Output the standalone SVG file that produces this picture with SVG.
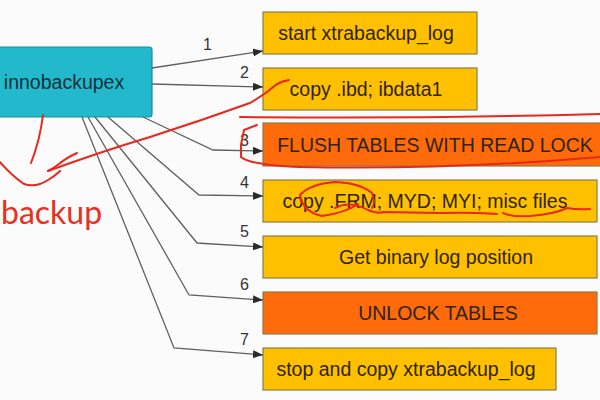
<svg xmlns="http://www.w3.org/2000/svg" width="600" height="400" viewBox="0 0 600 400">
<defs>
<marker id="ah" viewBox="0 0 10 8" refX="10" refY="4" markerWidth="10" markerHeight="8" markerUnits="userSpaceOnUse" orient="auto">
<path d="M0 0 L10 4 L0 8 Z" fill="#2a2a2a"/>
</marker>
</defs>
<style>
.box rect{stroke:#8a7c4a;stroke-width:1.2}
.y rect{fill:#ffc000}
.o rect{fill:#ff6a0a}
.t{font-family:"Liberation Sans",Arial,sans-serif;font-size:19.5px;fill:#2e2410;text-anchor:middle}
.n{font-family:"Liberation Sans",Arial,sans-serif;font-size:16px;fill:#333}
.c path{fill:none;stroke:#606060;stroke-width:1.3;marker-end:url(#ah)}
.r path{fill:none;stroke:#e8281a;stroke-width:2;stroke-linecap:round;stroke-linejoin:round}
</style>
<rect width="600" height="400" fill="#fbfbfb"/>
<g id="innobackupex">
<rect x="-6" y="47" width="158" height="70" rx="3" fill="#22b9cc" stroke="#1a8d9e" stroke-width="1.2"/>
<text x="64" y="89" style="font-family:'Liberation Sans',Arial,sans-serif;font-size:19.5px;fill:#12303a;text-anchor:middle">innobackupex</text>
</g>
<g id="step1" class="box y"><rect x="263" y="12" width="214" height="42"/><text class="t" x="366" y="40">start xtrabackup_log</text></g>
<g id="step2" class="box y"><rect x="263" y="68" width="214" height="42"/><text class="t" x="366" y="96">copy .ibd; ibdata1</text></g>
<g id="step3" class="box o"><rect x="263" y="123" width="350" height="43"/><text class="t" x="435" y="152">FLUSH TABLES WITH READ LOCK</text></g>
<g id="step4" class="box y"><rect x="263" y="180" width="334" height="42"/><text class="t" x="425" y="208">copy .FRM; MYD; MYI; misc files</text></g>
<g id="step5" class="box y"><rect x="263" y="236" width="334" height="42"/><text class="t" x="436" y="264">Get binary log position</text></g>
<g id="step6" class="box o"><rect x="263" y="292" width="334" height="42"/><text class="t" x="438" y="320">UNLOCK TABLES</text></g>
<g id="step7" class="box y"><rect x="263" y="348" width="293" height="42"/><text class="t" x="406" y="376">stop and copy xtrabackup_log</text></g>
<g id="connectors" class="c">
<path d="M152 68 L263 51"/>
<path d="M152 84 L263 87"/>
<path d="M143 117 L213 150 L263 151"/>
<path d="M108 117 L199 195 L263 196"/>
<path d="M95 117 L197 243 L263 247"/>
<path d="M88 117 L189 295 L263 300"/>
<path d="M82 117 L174 348 L263 355"/>
</g>
<g id="numbers" class="n">
<text x="203" y="50">1</text>
<text x="240" y="78">2</text>
<text x="240" y="146">3</text>
<text x="240" y="188">4</text>
<text x="240" y="237">5</text>
<text x="240" y="290">6</text>
<text x="240" y="345">7</text>
</g>
<g id="annotations" class="r">
<path d="M43 115 Q40 140 31 163"/>
<path d="M-2 160 Q12 176 24 184 Q36 188 48 180 Q55 176 60 171"/>
<path d="M48 171 Q100 152 150 137 Q200 121 250 103 Q265 94 272 88 Q278 82 289 80"/>
<path d="M77 153 Q66 158 59 164 Q54 168 48 171"/>
<path d="M240 117 Q420 119 600 114"/>
<path d="M257 125 L244 130 L241 145 L241 157 Q250 165 300 167 Q450 170 600 157"/>
<path d="M300 195 Q310 184 335 182 Q360 183 372 193 Q376 202 372 208"/>
<path d="M300 195 Q303 212 322 216 Q345 213 358 204"/>
<path d="M335 208 Q350 200 368 210 Q378 214 383 212 L440 213 Q470 212 497 214"/>
<path d="M503 213 Q512 217 530 216 Q555 214 567 208 Q578 210 590 209"/>
</g>
<text x="1" y="224" style="font-family:Lato,'Open Sans',sans-serif;font-size:32px;fill:#e8301c">backup</text>
</svg>
